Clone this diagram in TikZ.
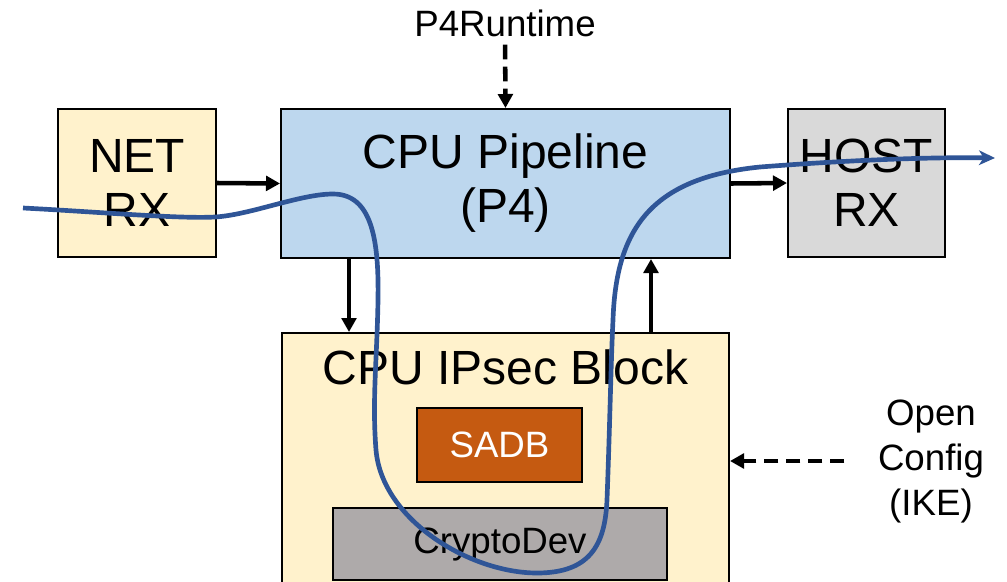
\documentclass[tikz,border=0pt]{standalone}
\usepackage{fontspec}
\setmainfont{Liberation Sans}
\usetikzlibrary{arrows.meta,calc}
\definecolor{yellowc}{HTML}{FFF2CC}
\definecolor{bluec}{HTML}{BDD7EE}
\definecolor{greyc}{HTML}{D9D9D9}
\definecolor{sadbc}{HTML}{C55A11}
\definecolor{cryptoc}{HTML}{AEAAAA}
\definecolor{flowc}{HTML}{2F5597}
\tikzset{
  box/.style={draw=black, line width=1.5pt, inner sep=0pt, align=center},
  bigtext/.style={font=\fontsize{36}{40.5}\selectfont},
  smalltext/.style={font=\fontsize{27.5}{33.75}\selectfont},
  arr/.style={line width=3.4pt, -{Triangle[length=10.5pt,width=11pt]}},
  dasharr/.style={line width=3.4pt, dash pattern=on 11pt off 5.5pt, -{Triangle[length=10.5pt,width=11pt]}},
  flow/.style={draw=flowc, line width=3.5pt, -{Stealth[length=12pt,width=11pt,inset=3.5pt]}}
}
\begin{document}
\begin{tikzpicture}[x=0.75pt,y=-0.75pt]
\clip (0,0) rectangle (1007,582);
\fill[white] (0,0) rectangle (1007,582);
% boxes
\node[box, bigtext, fill=yellowc, minimum width=118.5pt, minimum height=111pt] (net) at (137,183) {NET\\RX};
\node[box, bigtext, fill=bluec, minimum width=336.75pt, minimum height=111.75pt] (pipe) at (505.5,183.5) {CPU Pipeline\\(P4)};
\node[box, bigtext, fill=greyc, minimum width=117.75pt, minimum height=111pt] (host) at (866.5,183) {HOST\\RX};
\node[box, fill=yellowc, minimum width=335.25pt, minimum height=230.25pt] (ipsec) at (505.5,486.5) {};
\node[bigtext, inner sep=0pt] (ipsectitle) at (505.5,367) {CPU IPsec Block};
\node[box, smalltext, fill=sadbc, text=white, minimum width=123.75pt, minimum height=55.5pt] (sadb) at (499.5,445) {SADB};
\node[box, smalltext, fill=cryptoc, minimum width=250.5pt, minimum height=54pt] (crypto) at (500,544) {CryptoDev};
% outside labels
\node[smalltext, inner sep=0pt] (p4rt) at (505,23) {P4Runtime};
\node[smalltext, inner sep=0pt, align=center] (oc) at (931,461) {Open\\Config\\(IKE)};
% connectors
\coordinate (xdown) at (349,0);
\coordinate (xup) at (651,0);
\draw[arr] (net.east) -- (pipe.west);
\draw[arr] (pipe.east) -- (host.west);
\draw[arr] (pipe.south -| xdown) -- (ipsec.north -| xdown);
\draw[arr] (ipsec.north -| xup) -- (pipe.south -| xup);
\draw[dasharr, shorten <=6pt] (p4rt.south) -- (pipe.north);
\draw[dasharr, shorten <=25pt] (oc.west) -- (oc.west -| ipsec.east);
% packet flow
\coordinate (fstart) at (23,208);
\coordinate (fend) at (995,158);
\draw[flow] (fstart) .. controls (100,212) and (180,219) .. (215,217)
  .. controls (250,215) and (300,194) .. (333,194)
  .. controls (372,194) and (379,240) .. (378,300)
  .. controls (377,360) and (372,400) .. (376,450)
  .. controls (382,520) and (470,573) .. (537,573)
  .. controls (590,573) and (605,545) .. (607,500)
  .. controls (610,420) and (611,360) .. (613,320)
  .. controls (616,230) and (650,178) .. (760,167)
  .. controls (850,160) and (930,157) .. (fend);
\end{tikzpicture}
\end{document}
